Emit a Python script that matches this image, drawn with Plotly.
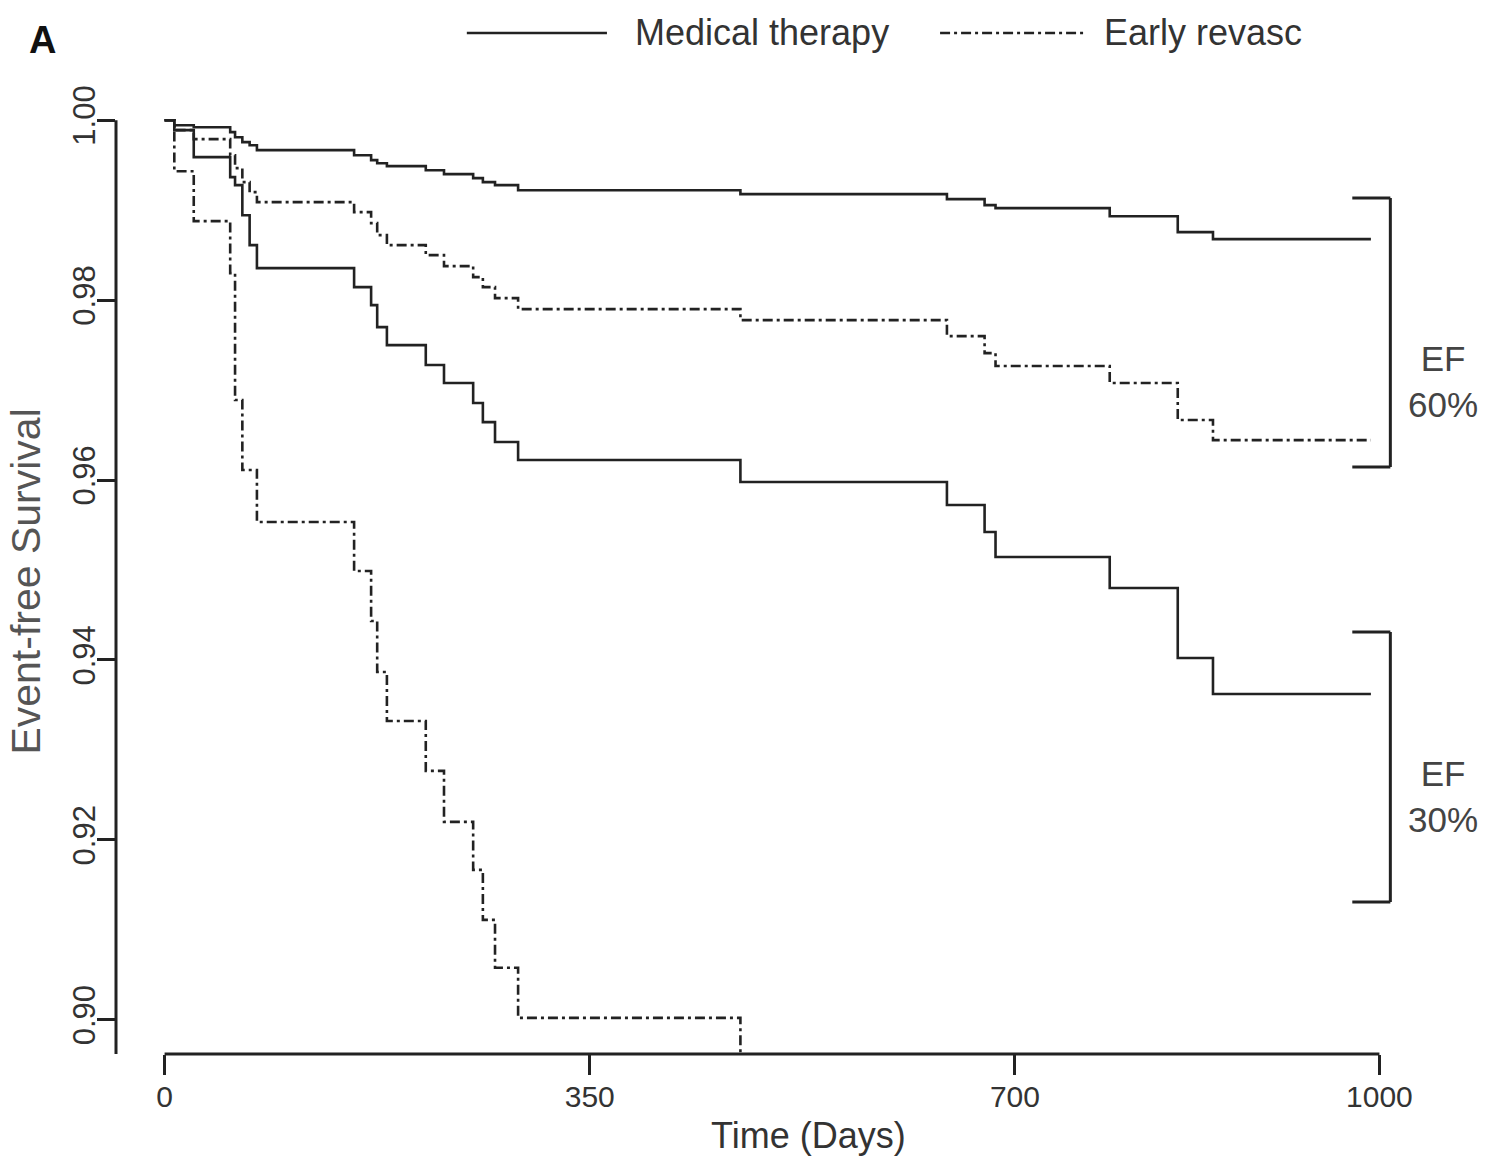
import plotly.graph_objects as go

# ---- data ----
event_days = [0, 8, 24, 54, 58, 64, 70, 76, 156, 170, 175, 183, 215, 230, 254,
              262, 272, 291, 474, 644, 675, 684, 778, 834, 863, 993]

surv_med_ef60 = [1.0, 0.99944, 0.99922, 0.99867, 0.99811, 0.99756, 0.99722, 0.99667,
                 0.99611, 0.99556, 0.99522, 0.99489, 0.99444, 0.99400, 0.99356, 0.99311,
                 0.99278, 0.99222, 0.99178, 0.99122, 0.99056, 0.99022, 0.98933, 0.98756,
                 0.98678, 0.98678]

surv_rev_ef60 = [1.0, 0.99889, 0.99789, 0.99611, 0.99467, 0.99311, 0.99200, 0.99089,
                 0.98978, 0.98856, 0.98722, 0.98611, 0.98500, 0.98378, 0.98256, 0.98144,
                 0.98022, 0.97900, 0.97778, 0.97600, 0.97411, 0.97267, 0.97078, 0.96667,
                 0.96444, 0.96444]

surv_med_ef30 = [1.0, 0.99889, 0.99589, 0.99367, 0.99278, 0.98944, 0.98611, 0.98356,
                 0.98144, 0.97944, 0.97700, 0.97500, 0.97278, 0.97078, 0.96856, 0.96644,
                 0.96422, 0.96222, 0.95978, 0.95722, 0.95422, 0.95144, 0.94800, 0.94022,
                 0.93622, 0.93622]

rev_ef30_days = [0, 8, 24, 54, 58, 64, 70, 76, 156, 170, 175, 183, 215, 230, 254,
                 262, 272, 291, 474]
surv_rev_ef30 = [1.0, 0.99433, 0.98878, 0.98300, 0.96889, 0.96111, 0.96111, 0.95533,
                 0.94989, 0.94433, 0.93867, 0.93322, 0.92767, 0.92200, 0.91667, 0.91111,
                 0.90578, 0.90022, 0.88500]

x_ticks = [0, 350, 700, 1000]
y_ticks = [0.90, 0.92, 0.94, 0.96, 0.98, 1.00]
y_ticklabels = ["0.90", "0.92", "0.94", "0.96", "0.98", "1.00"]

legend_labels = ["Medical therapy", "Early revasc"]
group_labels = ["EF<br>60%", "EF<br>30%"]

# ---- styling ----
LINE_COL = "#222222"
TEXT_COL = "#333333"
ARIAL = "Liberation Sans, Arial, sans-serif"
DASHDOT = "10px,4px,3px,4px"
XR = [-40, 1040]
YR = [0.8962, 1.0038]

fig = go.Figure()

def add_curve(x, y, dash, name):
    fig.add_trace(go.Scatter(x=x, y=y, mode="lines", line_shape="hv",
                             line=dict(color=LINE_COL, width=2.6, dash=dash),
                             name=name, showlegend=False, hoverinfo="skip"))

add_curve(event_days, surv_med_ef60, "solid", "Medical therapy EF 60%")
add_curve(event_days, surv_rev_ef60, DASHDOT, "Early revasc EF 60%")
add_curve(event_days, surv_med_ef30, "solid", "Medical therapy EF 30%")
add_curve(rev_ef30_days, surv_rev_ef30, DASHDOT, "Early revasc EF 30%")

shapes = []
# axis lines (R style, detached)
shapes.append(dict(type="line", xref="x", yref="paper", x0=0, x1=1000, y0=0, y1=0,
                   line=dict(color=LINE_COL, width=3)))
shapes.append(dict(type="line", xref="paper", yref="y", x0=0, x1=0, y0=YR[0] - 0.0004,
                   y1=1.0, line=dict(color=LINE_COL, width=3)))

# legend samples
shapes.append(dict(type="line", xref="paper", yref="paper", x0=0.2674, x1=0.3742,
                   y0=1.0548, y1=1.0548, line=dict(color=LINE_COL, width=2.6)))
shapes.append(dict(type="line", xref="paper", yref="paper", x0=0.6281, x1=0.7387,
                   y0=1.0548, y1=1.0548, line=dict(color=LINE_COL, width=2.6, dash=DASHDOT)))

# EF brackets
def bracket(ytop, ybot):
    xv, xl = 0.9713, 0.9423
    for seg in [(xv, ytop, xv, ybot), (xl, ytop, xv, ytop), (xl, ybot, xv, ybot)]:
        shapes.append(dict(type="line", xref="paper", yref="paper",
                           x0=seg[0], y0=seg[1], x1=seg[2], y1=seg[3],
                           line=dict(color=LINE_COL, width=3)))

bracket(0.8843, 0.6064)
bracket(0.4359, 0.1570)

annotations = [
    dict(text="<b>A</b>", xref="paper", yref="paper", x=-0.056, y=1.0475,
         showarrow=False, font=dict(family=ARIAL, size=38, color="#111111"),
         xanchor="center", yanchor="middle"),
    dict(text=legend_labels[0], xref="paper", yref="paper", x=0.3939, y=1.0548,
         showarrow=False, font=dict(family=ARIAL, size=36, color=TEXT_COL),
         xanchor="left", yanchor="middle"),
    dict(text=legend_labels[1], xref="paper", yref="paper", x=0.7516, y=1.0548,
         showarrow=False, font=dict(family=ARIAL, size=36, color=TEXT_COL),
         xanchor="left", yanchor="middle"),
    dict(text=group_labels[0], xref="paper", yref="paper", x=1.0117, y=0.6952,
         showarrow=False, font=dict(family=ARIAL, size=35, color="#444444"),
         xanchor="center", yanchor="middle"),
    dict(text=group_labels[1], xref="paper", yref="paper", x=1.0117, y=0.2665,
         showarrow=False, font=dict(family=ARIAL, size=35, color="#444444"),
         xanchor="center", yanchor="middle"),
    dict(text="Time (Days)", xref="paper", yref="paper", x=0.5275, y=-0.0837,
         showarrow=False, font=dict(family=ARIAL, size=36, color=TEXT_COL),
         xanchor="center", yanchor="middle"),
    dict(text="Event-free Survival", xref="paper", yref="paper", x=-0.0689, y=0.4876,
         showarrow=False, textangle=-90, font=dict(family=ARIAL, size=41, color="#555555"),
         xanchor="center", yanchor="middle"),
]

fig.update_layout(
    width=1486, height=1159,
    margin=dict(l=116, r=58, t=86, b=105),
    paper_bgcolor="white", plot_bgcolor="white",
    shapes=shapes, annotations=annotations,
    showlegend=False,
    xaxis=dict(range=XR, showgrid=False, zeroline=False, showline=False,
               tickvals=x_ticks, ticktext=[str(v) for v in x_ticks],
               ticks="outside", ticklen=20, tickwidth=2.5, tickcolor=LINE_COL,
               ticklabelstandoff=-4,
               tickfont=dict(family=ARIAL, size=30, color=TEXT_COL)),
    yaxis=dict(range=YR, showgrid=False, zeroline=False, showline=False,
               tickvals=y_ticks, ticktext=y_ticklabels, tickangle=-90,
               ticks="outside", ticklen=18, tickwidth=2.5, tickcolor=LINE_COL,
               ticklabelstandoff=-10,
               tickfont=dict(family=ARIAL, size=31, color=TEXT_COL)),
)

fig.write_html("out.html")
